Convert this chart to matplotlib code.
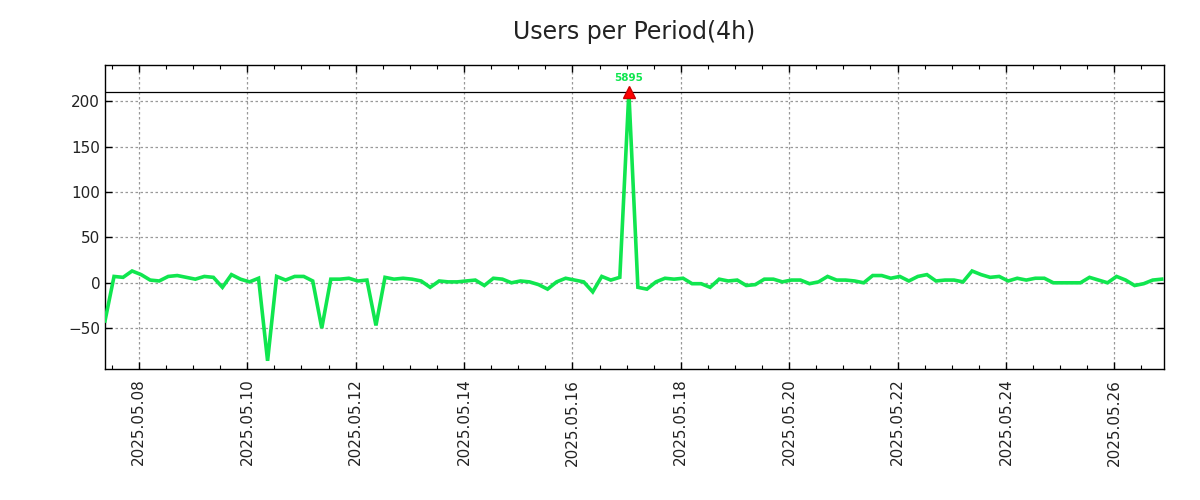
import matplotlib
matplotlib.use('Agg')
import matplotlib.pyplot as plt
import matplotlib.dates as mdates
from matplotlib.ticker import MultipleLocator
import pandas as pd

# Periodos de 4h desde el 2025-05-07 09:00
start = '2025-05-07 09:00'
period = '4h'
users = [
    -42, 7, 6, 13, 9, 3, 2, 7, 8, 6,
    4, 7, 6, -5, 9, 4, 1, 5, -86, 7,
    3, 7, 7, 2, -50, 4, 4, 5, 2, 3,
    -47, 6, 4, 5, 4, 2, -5, 2, 1, 1,
    2, 3, -3, 5, 4, 0, 2, 1, -2, -7,
    1, 5, 3, 1, -10, 7, 3, 6, 5895, -5,
    -7, 1, 5, 4, 5, -1, -1, -5, 4, 2,
    3, -3, -2, 4, 4, 1, 3, 3, -1, 1,
    7, 3, 3, 2, 0, 8, 8, 5, 7, 2,
    7, 9, 2, 3, 3, 1, 13, 9, 6, 7,
    2, 5, 3, 5, 5, 0, 0, 0, 0, 6,
    3, 0, 7, 3, -3, -1, 3, 4,
]
cap = 210  # valores por encima se recortan
label_days = list(range(8, 27, 2))

times = pd.date_range(start=start, periods=len(users), freq=period)
shown = [min(v, cap) for v in users]
green = '#10e64f'

fig = plt.figure(figsize=(12, 5), dpi=100)
ax = fig.add_axes([0.0875, 0.262, 0.8825, 0.608])

ax.plot(times, shown, color=green, linewidth=2.6, solid_joinstyle='miter', zorder=3)
ax.axhline(cap, color='black', linewidth=0.9, zorder=2)

# marcar los picos recortados con su valor real
for t, v in zip(times, users):
    if v > cap:
        ax.plot([t], [cap], marker='^', color='red', markeredgecolor='#cc0000',
                markersize=8, zorder=4)
        ax.annotate(str(v), (t, cap), xytext=(0, 7), textcoords='offset points',
                    ha='center', va='bottom', color=green, fontsize=7.5,
                    fontweight='bold')

ax.set_xlim(times[0], times[-1] + pd.Timedelta(hours=1))
ax.set_ylim(-95, 240)
ax.yaxis.set_major_locator(MultipleLocator(50))
ax.xaxis.set_major_locator(mdates.DayLocator(bymonthday=label_days))
ax.xaxis.set_minor_locator(mdates.HourLocator(byhour=[0, 12]))
ax.xaxis.set_major_formatter(mdates.DateFormatter('%Y.%m.%d'))

ax.tick_params(which='both', direction='in', top=True, right=True, labelsize=11,
               labelcolor='#222222')
ax.tick_params(which='major', length=5, width=1)
ax.tick_params(which='minor', length=3, width=0.8)
ax.tick_params(axis='x', which='major', pad=7)
plt.setp(ax.get_xticklabels(), rotation=90)

ax.grid(True, which='major', color='#999999', linestyle=(0, (2, 2)), linewidth=0.9)
for s in ax.spines.values():
    s.set_linewidth(1)

ax.set_title('Users per Period(4h)', fontsize=17, pad=19, color='#222222')

fig.savefig('out.png', dpi=100)
